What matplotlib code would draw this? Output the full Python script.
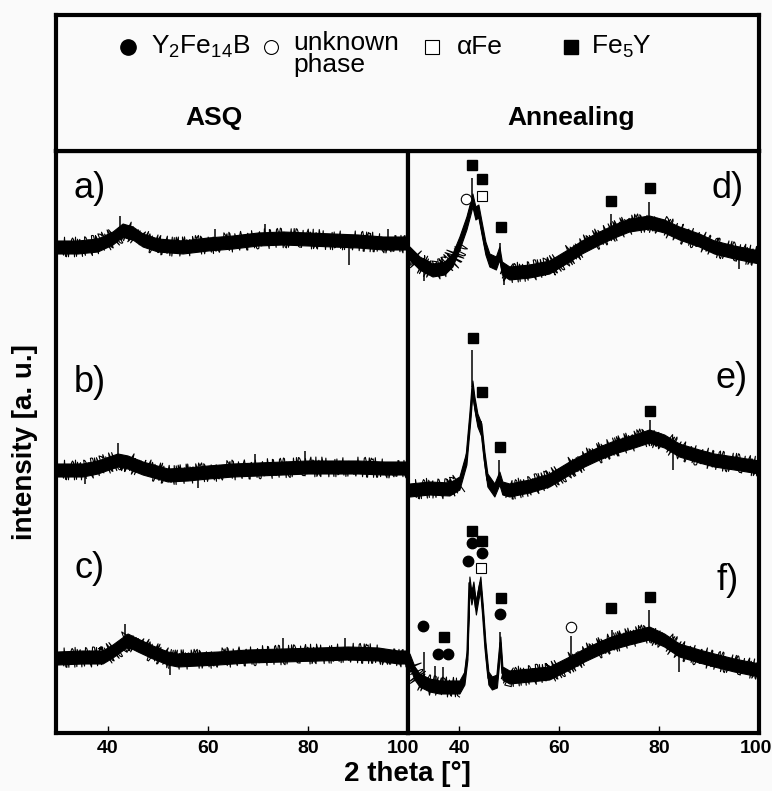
import numpy as np
import matplotlib
matplotlib.use("Agg")
import matplotlib.pyplot as plt
from matplotlib.transforms import offset_copy

plt.rcParams['font.family'] = ['Liberation Sans', 'DejaVu Sans']
plt.rcParams['mathtext.fontset'] = 'custom'
plt.rcParams['mathtext.rm'] = 'Liberation Sans'
plt.rcParams['mathtext.it'] = 'Liberation Sans:italic'

# ---- data: heights above the panel floor (a.u.) ----
# ASQ (left panel)
tt_a = [30, 34, 38, 41, 43, 45, 47, 50, 55, 60, 65, 70, 75, 80, 85, 90, 95, 100]
int_a = [486, 486, 488, 495, 503, 500, 493, 488, 486, 489, 491, 494, 495, 494, 493, 492, 490, 490]
spk_a_x = [42.5, 61.5, 71.5, 88.3, 96]
spk_a_d = [16, 14, 15, -24, 14]

tt_b = [30, 35, 38, 42, 44, 47, 52, 56, 60, 65, 70, 75, 80, 85, 90, 95, 100]
int_b = [263, 263, 266, 273, 271, 265, 258, 259, 261, 263, 264, 265, 266, 266, 266, 265, 265]
spk_b_x = [35.5, 42, 58, 69.5, 79.5]
spk_b_d = [-14, 17, -15, 15, 16]

tt_c = [30, 35, 39, 41, 44, 46, 49, 52, 54, 58, 62, 68, 75, 82, 88, 94, 98, 100]
int_c = [75, 76, 76, 82, 93, 88, 81, 75, 73, 74, 75, 77, 78, 79, 80, 79, 76, 76]
spk_c_x = [43.5, 52.5, 75, 87.5]
spk_c_d = [18, -16, 17, 15]

# Annealing (right panel)
tt_d = [30, 32, 34.6, 37, 38.6, 40, 41.4, 42.2, 42.6, 43.2, 43.8, 44.4, 45.2, 46, 47.3, 48,
        48.5, 50, 54, 58, 62, 64.5, 68, 71, 74, 78, 81, 84, 88, 91, 95, 100]
int_d = [480, 470, 463, 465, 473, 490, 510, 525, 533, 520, 522, 506, 485, 473, 470, 480,
         465, 460, 462, 466, 478, 486, 495, 502, 508, 511, 507, 500, 493, 486, 481, 476]
spk_d_x = [33, 42.6, 48.1, 49, 70.4, 78, 96]
spk_d_d = [-15, 22, 13, -15, 18, 20, -16]

tt_e = [30, 34, 38, 40, 41.4, 42.2, 42.6, 43.0, 43.6, 44.4, 45, 45.6, 47, 48, 48.6, 50, 54,
        58, 62, 65, 68, 71, 75, 78, 81, 84, 88, 91, 95, 100]
int_e = [243, 245, 244, 250, 275, 320, 346, 330, 313, 303, 275, 253, 243, 255, 245, 243, 247,
         253, 265, 273, 280, 286, 292, 297, 292, 283, 277, 273, 270, 266]
spk_e_x = [42.6, 44.4, 48.0, 78.2, 82.7]
spk_e_d = [37, 9, 18, 16, -24]

tt_f = [30, 31, 32, 34, 36, 38, 40, 41, 41.6, 42.0, 42.4, 42.8, 43.3, 43.8, 44.2, 44.7, 45.2,
        45.8, 46.5, 47.5, 48.2, 48.6, 50, 54, 58, 62, 65, 68, 70.4, 74, 78, 81, 84, 88, 91, 95, 100]
int_f = [73, 60, 53, 48, 46, 46, 46, 55, 80, 150, 135, 145, 125, 140, 150, 120, 85,
         55, 50, 52, 90, 60, 56, 58, 60, 70, 78, 85, 90, 95, 100, 93, 83, 77, 73, 68, 63]
spk_f_x = [32.9, 35.2, 36.8, 48.1, 62.3, 70.5, 78, 84]
spk_f_d = [30, 20, 20, 16, 26, 13, 23, -22]

noise_asq = 6.5
noise_ann = 6.5

# phase markers (2 theta, height)
fe5y_x = [42.6, 44.6, 48.3, 70.4, 78.2, 42.8, 44.6, 48.1, 78.2, 37.0, 42.6, 44.6, 48.3, 70.4, 78.2]
fe5y_y = [568, 554, 506, 532, 545, 395, 341, 286, 322, 96, 202, 192, 135, 125, 136]
y2fe14b_x = [32.7, 35.8, 37.8, 41.8, 42.6, 44.6, 48.1]
y2fe14b_y = [107, 79, 79, 172, 190, 180, 119]
afe_x = [44.6, 44.4]
afe_y = [537, 165]
unk_x = [41.4, 62.3]
unk_y = [534, 106]

ticks = [40, 60, 80, 100]

W, H = 772, 791
fig = plt.figure(figsize=(W / 100, H / 100), dpi=100)
fig.patch.set_facecolor('#fafafa')

L, R, T, B, HL, DV = 56, 759, 15, 733, 151, 408
ax_l = fig.add_axes([L / W, 1 - B / H, (DV - L) / W, (B - HL) / H])
ax_r = fig.add_axes([DV / W, 1 - B / H, (R - DV) / W, (B - HL) / H])
ax_h = fig.add_axes([L / W, 1 - HL / H, (R - L) / W, (HL - T) / H])

for ax in (ax_l, ax_r, ax_h):
    ax.set_facecolor('#fafafa')
    for s in ax.spines.values():
        s.set_linewidth(3)
        s.set_zorder(5)

def trace(ax, x, y, sx, sd, hw, peak=None):
    x = np.array(x, float)
    y = np.array(y, float)
    ax.fill_between(x, y - hw, y + hw, color='black', lw=0.8)
    ax.plot(x, y, color='black', lw=1.5)
    # jagged counting-noise look, as a sketched line style, kept off the sharp peaks
    if peak is None:
        parts = [np.ones(len(x), bool)]
    else:
        parts = [x <= peak[0], x >= peak[1]]
    for m in parts:
        ln, = ax.plot(x[m], y[m], color='black', lw=0.8)
        ln.set_sketch_params(scale=10, length=0.7, randomness=3)
    base = np.interp(sx, x, y)
    ax.vlines(sx, base, base + np.array(sd, float), color='black', lw=1.1)

trace(ax_l, tt_a, int_a, spk_a_x, spk_a_d, noise_asq)
trace(ax_l, tt_b, int_b, spk_b_x, spk_b_d, noise_asq)
trace(ax_l, tt_c, int_c, spk_c_x, spk_c_d, noise_asq)
trace(ax_r, tt_d, int_d, spk_d_x, spk_d_d, noise_ann, peak=(40, 48.5))
trace(ax_r, tt_e, int_e, spk_e_x, spk_e_d, noise_ann, peak=(40, 48.6))
trace(ax_r, tt_f, int_f, spk_f_x, spk_f_d, noise_ann, peak=(40, 48.6))

ms = 7.5
ax_r.plot(fe5y_x, fe5y_y, 's', color='black', ms=ms, ls='none')
ax_r.plot(y2fe14b_x, y2fe14b_y, 'o', color='black', ms=ms, ls='none')
ax_r.plot(afe_x, afe_y, 's', mfc='white', mec='black', mew=0.8, ms=ms, ls='none')
ax_r.plot(unk_x, unk_y, 'o', mfc='white', mec='black', mew=0.8, ms=ms, ls='none')

for ax in (ax_l, ax_r):
    ax.set_xlim(29.7, 100)
    ax.set_ylim(0, B - HL)
    ax.set_yticks([])
    ax.set_xticks(ticks)
    ax.tick_params(axis='x', direction='in', length=5, width=1, pad=5, labelsize=14)
    for lab in ax.get_xticklabels():
        lab.set_fontweight('bold')

# nudge the "100" labels so they sit like in the original
fig.canvas.draw()
ax_l.get_xticklabels()[-1].set_transform(
    offset_copy(ax_l.get_xticklabels()[-1].get_transform(), fig=fig, x=-5, units='dots'))
ax_r.get_xticklabels()[-1].set_transform(
    offset_copy(ax_r.get_xticklabels()[-1].get_transform(), fig=fig, x=-3, units='dots'))

lab_kw = dict(fontsize=26, ha='center', va='center')
ax_l.text(36.4, 545, 'a)', **lab_kw)
ax_l.text(36.4, 350, 'b)', **lab_kw)
ax_l.text(36.4, 165, 'c)', **lab_kw)
ax_r.text(93.7, 545, 'd)', **lab_kw)
ax_r.text(94.5, 355, 'e)', **lab_kw)
ax_r.text(93.7, 153, 'f)', **lab_kw)

# header box with legend and panel titles
ax_h.set_xlim(0, 1)
ax_h.set_ylim(0, 1)
ax_h.set_xticks([])
ax_h.set_yticks([])
ly = 0.765
ax_h.plot([0.102], [ly], 'o', color='black', ms=11)
ax_h.text(0.135, ly, 'Y$_2$Fe$_{14}$B', fontsize=19, va='center')
ax_h.plot([0.306], [ly], 'o', mfc='white', mec='black', mew=0.8, ms=10)
ax_h.text(0.337, ly + 0.12, 'unknown\nphase', fontsize=19, va='top', linespacing=0.9)
ax_h.plot([0.535], [ly], 's', mfc='white', mec='black', mew=0.8, ms=10)
ax_h.text(0.570, ly, 'αFe', fontsize=19, va='center')
ax_h.plot([0.733], [ly], 's', color='black', ms=10)
ax_h.text(0.761, ly, 'Fe$_5$Y', fontsize=19, va='center')
ax_h.text(0.225, 0.24, 'ASQ', fontsize=19, fontweight='bold', ha='center', va='center')
ax_h.text(0.733, 0.24, 'Annealing', fontsize=19, fontweight='bold', ha='center', va='center')

fig.text(407 / W, 1 - 774 / H, '2 theta [°]', fontsize=20, fontweight='bold', ha='center', va='center')
fig.text(25 / W, 1 - 442 / H, 'intensity [a. u.]', fontsize=20, fontweight='bold',
         ha='center', va='center', rotation=90)

fig.savefig('out.png', dpi=100, facecolor=fig.get_facecolor())
